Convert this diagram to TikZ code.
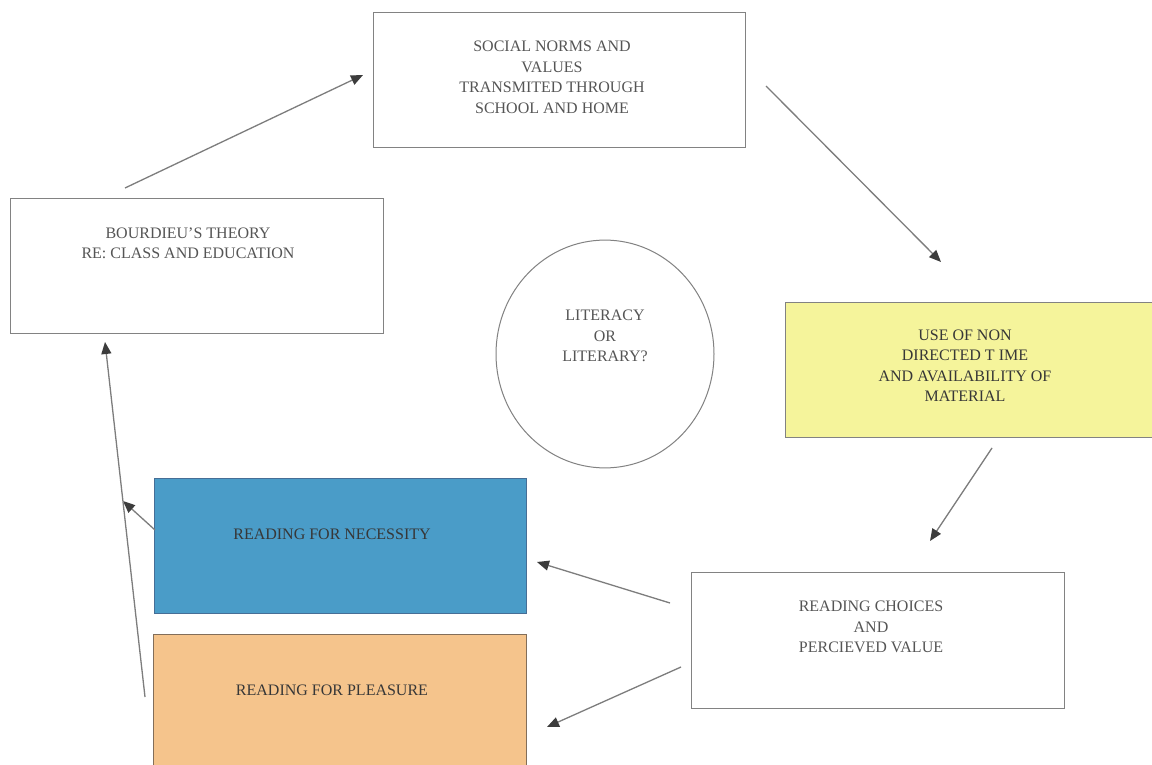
\documentclass[tikz,border=0pt]{standalone}
\usepackage{fontspec}
\setmainfont{Liberation Serif}
\usetikzlibrary{arrows.meta}
\definecolor{framegray}{RGB}{130,130,130}
\definecolor{textgray}{RGB}{85,85,85}
\definecolor{textdark}{RGB}{55,55,55}
\definecolor{linkgray}{RGB}{125,125,125}
\definecolor{tipgray}{RGB}{60,60,60}
\definecolor{notecream}{RGB}{245,244,155}
\definecolor{needblue}{RGB}{74,156,200}
\definecolor{neededge}{RGB}{70,110,150}
\definecolor{joyorange}{RGB}{245,196,140}
\definecolor{joyedge}{RGB}{130,110,90}
\tikzset{
  panel/.style={draw=framegray, line width=1pt, inner sep=0pt},
  caption/.style={font=\fontsize{16}{20.5}\selectfont, align=center, text=textgray, inner sep=0pt},
  darkcaption/.style={caption, text=textdark},
  link/.style={draw=linkgray, line width=1.3pt, -{Triangle[length=12pt,width=10pt,color=tipgray]}}
}
\begin{document}
\begin{tikzpicture}[x=1pt,y=-1pt]
  \useasboundingbox[fill=white] (0,0) rectangle (1152,765);

  % boxes
  \node[panel, minimum width=372pt, minimum height=135pt] (social) at (559,80.5) {};
  \node[panel, minimum width=373pt, minimum height=134pt] (bourdieu) at (196.5,266) {};
  \node[draw=framegray, line width=1pt, circle, minimum size=218pt, inner sep=0pt, yscale=1.045] (core) at (605,354) {};
  \node[panel, fill=notecream, minimum width=372pt, minimum height=135pt] (spare) at (971,369.5) {};
  \node[panel, fill=needblue, draw=neededge, minimum width=372pt, minimum height=135pt] (need) at (340,545.5) {};
  \node[panel, fill=joyorange, draw=joyedge, minimum width=373pt, minimum height=150pt] (joy) at (339.5,709) {};
  \node[panel, minimum width=373pt, minimum height=136pt] (choice) at (877.5,640) {};

  % texts
  \node[caption] (socialtxt) at (552,77.5) {SOCIAL NORMS AND\\VALUES\\TRANSMITED THROUGH\\SCHOOL AND HOME};
  \node[caption] (bourdieutxt) at (188,243.5) {BOURDIEU'S THEORY\\RE: CLASS AND EDUCATION};
  \node[caption] (coretxt) at (605,336) {LITERACY\\OR\\LITERARY?};
  \node[darkcaption] (sparetxt) at (965,365.5) {USE OF NON\\DIRECTED T IME\\AND AVAILABILITY OF\\MATERIAL};
  \node[darkcaption] (needtxt) at (332,534) {READING FOR NECESSITY};
  \node[darkcaption] (joytxt) at (332,690) {READING FOR PLEASURE};
  \node[caption] (choicetxt) at (871,627) {READING CHOICES\\AND\\PERCIEVED VALUE};

  % connector end points
  \coordinate (a1) at (125,188);  \coordinate (b1) at (363,75);
  \coordinate (a2) at (766,86);   \coordinate (b2) at (941,262);
  \coordinate (a3) at (992,448);  \coordinate (b3) at (930,541);
  \coordinate (a4) at (670,603);  \coordinate (b4) at (537,562);
  \coordinate (a5) at (681,667);  \coordinate (b5) at (547,727);
  \coordinate (a6) at (155,530);  \coordinate (b6) at (123,501);
  \coordinate (a7) at (145,697);  \coordinate (b7) at (105,342);

  % connectors
  \draw[link] (a1) -- (b1);
  \draw[link] (a2) -- (b2);
  \draw[link] (a3) -- (b3);
  \draw[link] (a4) -- (b4);
  \draw[link] (a5) -- (b5);
  \draw[link] (a6) -- (b6);
  \draw[link] (a7) -- (b7);
\end{tikzpicture}
\end{document}
